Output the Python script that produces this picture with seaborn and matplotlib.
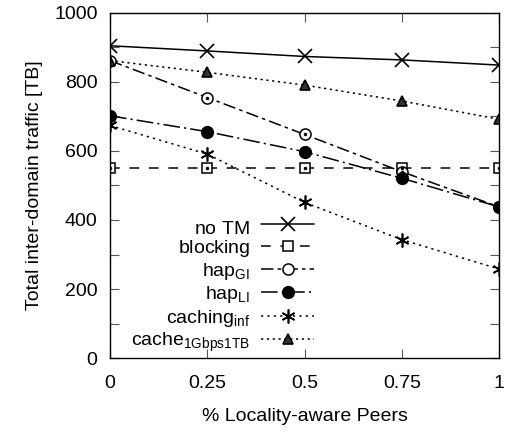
import numpy as np
import pandas as pd
import matplotlib
matplotlib.use("Agg")
import matplotlib.pyplot as plt
import seaborn as sns

# data
peers = [0, 0.25, 0.5, 0.75, 1]
no_tm = [905, 890, 874, 864, 849]
blocking = [552, 552, 552, 552, 552]
hap_gi = [862, 755, 648, 540, 438]
hap_li = [702, 656, 598, 521, 438]
caching_inf = [674, 591, 451, 343, 258]
cache_1g1tb = [862, 828, 791, 745, 692]

sns.set_theme(style="ticks", rc={"text.color": "black", "axes.labelcolor": "black",
                                 "xtick.labelcolor": "black", "ytick.labelcolor": "black"})
plt.rcParams["font.family"] = ["Liberation Sans", "DejaVu Sans"]
plt.rcParams["mathtext.fontset"] = "custom"
plt.rcParams["mathtext.rm"] = "Liberation Sans"
plt.rcParams["mathtext.it"] = "Liberation Sans"
plt.rcParams["lines.scale_dashes"] = False

fig, ax = plt.subplots(figsize=(5.06, 4.33), dpi=100)
fig.subplots_adjust(left=0.2174, right=0.9862, top=0.970, bottom=0.1732)

lw = 1.1
# the thin-space subscript keeps every legend row the same height
series = [
    (no_tm, r"no TM$_{\,}$", dict(linestyle="-", marker="x", ms=9.5, mew=1.2)),
    (blocking, r"blocking$_{\,}$", dict(linestyle=(0, (7, 7)), marker="s", ms=7, mfc="white", mew=1.1)),
    (hap_gi, r"hap$_{\mathrm{GI}}$", dict(linestyle=(0, (9, 3, 2.5, 3)), marker="o", ms=8, mfc="white", mew=1.1)),
    (hap_li, r"hap$_{\mathrm{LI}}$", dict(linestyle=(0, (12, 3, 1.5, 3)), marker="o", ms=8.5, mfc="black", mew=1.0)),
    (caching_inf, r"caching$_{\mathrm{inf}}$", dict(linestyle=(0, (1.6, 3)), marker=(6, 2, 0), ms=10, mew=1.2)),
    (cache_1g1tb, r"cache$_{\mathrm{1Gbps1TB}}$", dict(linestyle=(0, (1.6, 2.6)), marker="^", ms=6.5, mfc="#333333", mew=1.2)),
]

for vals, name, kw in series:
    df = pd.DataFrame({"peers": peers, "traffic": vals})
    sns.lineplot(data=df, x="peers", y="traffic", ax=ax, color="black", lw=lw,
                 mec="black", label=name, **kw)

# small center dots of the gnuplot open symbols
for vals in (blocking, hap_gi):
    ax.plot(peers, vals, linestyle="none", marker="o", ms=1.5, color="black")

ax.set_xlim(0, 1)
ax.set_ylim(0, 1000)
ax.set_xticks(peers)
ax.set_xticklabels(["0", "0.25", "0.5", "0.75", "1"])
ax.set_yticks(np.arange(0, 1001, 200))
ax.set_yticks(np.arange(100, 1000, 200), minor=True)
ax.tick_params(axis="both", which="both", direction="in", top=True, right=True,
               length=6.5, width=0.8, color="#555555", labelsize=14, labelcolor="black")
ax.tick_params(axis="x", pad=12)
ax.tick_params(axis="y", pad=9)
for sp in ax.spines.values():
    sp.set_linewidth(1.0)
    sp.set_color("black")

ax.set_xlabel("% Locality-aware Peers", fontsize=14, labelpad=12)
ax.set_ylabel("Total inter-domain traffic [TB]", fontsize=14, labelpad=8)

leg = ax.legend(loc="lower right", bbox_to_anchor=(0.535, 0.0), markerfirst=False,
                frameon=False, fontsize=14, handlelength=2.75, handletextpad=0.55,
                labelspacing=0.12, borderpad=0.2, borderaxespad=0.0)

fig.savefig("out.png", dpi=100)
